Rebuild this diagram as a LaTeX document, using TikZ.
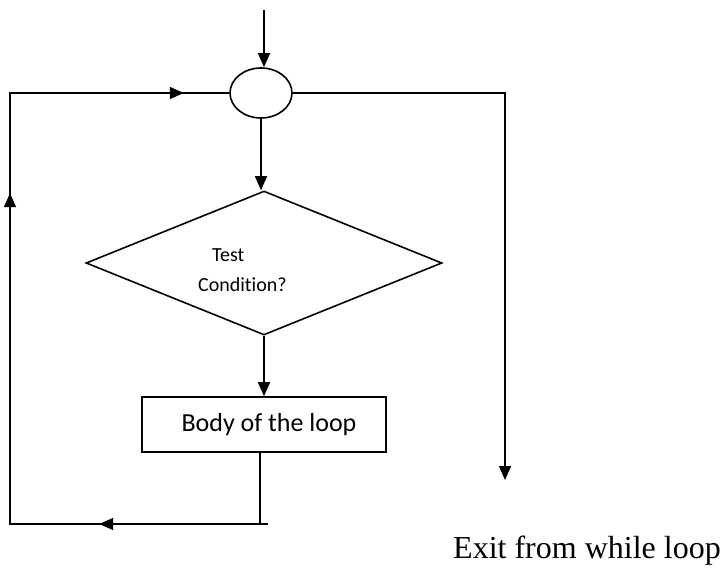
\documentclass[tikz,border=0pt]{standalone}
\usepackage{fontspec}
\setmainfont{Liberation Serif}
\newfontfamily\boxfont[Ligatures=NoCommon]{Carlito}
\usetikzlibrary{shapes.geometric,arrows.meta,decorations.markings}

\tikzset{
  line/.style={line width=1.6pt, draw=black},
  arr/.style={line, -{Triangle[length=14pt,width=12pt]}},
  tipat/.style={postaction={decorate, decoration={markings,
      mark=at position #1 with {\arrow{Triangle[length=14pt,width=12pt]}}}}},
  junction/.style={ellipse, line, minimum width=62pt, minimum height=50pt, inner sep=0pt},
  decision/.style={diamond, line, minimum width=356pt, minimum height=144pt, inner sep=0pt},
  process/.style={rectangle, line, minimum width=244pt, minimum height=55pt, inner sep=0pt},
}

\begin{document}
\begin{tikzpicture}[x=1pt, y=-1pt]
  \useasboundingbox (0,0) rectangle (723,569);

  % shapes
  \node[junction] (merge) at (261,93) {};
  \node[decision] (dec) at (264,263) {};
  \node[anchor=west, align=left, inner sep=0pt, font=\boxfont\fontsize{20}{30}\selectfont]
    (cond) at (198,270) {\hspace*{14pt}Test\\Condition?};
  \node[process, font=\boxfont\fontsize{26}{30}\selectfont] (body) at (264,424.5) {\hspace*{10pt}Body of the loop};
  \node[anchor=base west, inner sep=0pt, font=\fontsize{32}{36}\selectfont] (exit) at (453,558) {Exit from while loop};

  % free ends and corners
  \coordinate (entry) at (264,10);
  \coordinate (bl) at (260,524);
  \coordinate (ll) at (10,524);
  \coordinate (lt) at (10,93);
  \coordinate (exitend) at (505,480);

  % main flow
  \draw[arr] (entry) -- (entry |- merge.north);
  \draw[arr] (merge.south) -- (merge.south |- dec.north);
  \draw[arr] (dec.south) -- (body.north);

  % return path back to the junction
  \draw[line, tipat=232pt, tipat=652pt, tipat=926pt]
    (bl |- body.south) -- (bl) -- (ll) -- (lt) -- (merge.west);
  \draw[line] (bl) -- ++(8,0);

  % exit path
  \draw[arr] (merge.east) -| (exitend);
\end{tikzpicture}
\end{document}
